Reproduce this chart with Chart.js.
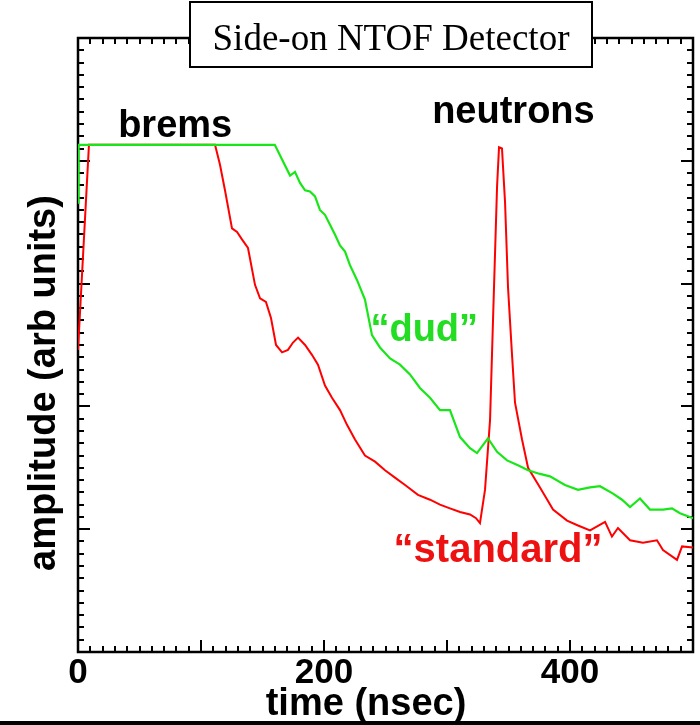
<!DOCTYPE html>
<html>
<head>
<meta charset="utf-8">
<script src="https://cdn.jsdelivr.net/npm/chart.js@4"></script>
<style>
  body { margin: 0; background: #fff; }
  canvas { display: block; }
</style>
</head>
<body>
<canvas id="ntof" width="700" height="725"></canvas>
<script>
// time axis (nsec) and amplitude (arb units)
var dudTime = [0, 0.5, 160, 165.9, 172.4, 176.4, 180.5, 184.6, 188.6, 192.7, 196.7, 200.8, 204.9, 208.9, 213.0, 217.1, 221.1, 226.8, 233.3, 239.0, 245.5, 253.7, 261.8, 269.9, 278.0, 286.2, 294.3, 302.4, 310.6, 318.7, 324.4, 333.3, 340.7, 348.8, 357.7, 365.9, 375.6, 383.7, 395.9, 406.5, 416.3, 424.4, 435.0, 442.3, 448.8, 456.9, 465.0, 475.6, 482.9, 489.4, 500];
var dudAmp = [3.66, 4.13, 4.13, 4.01, 3.88, 3.91, 3.82, 3.76, 3.75, 3.71, 3.60, 3.56, 3.48, 3.40, 3.31, 3.26, 3.15, 3.03, 2.87, 2.58, 2.48, 2.39, 2.34, 2.26, 2.15, 2.07, 1.97, 1.97, 1.75, 1.66, 1.62, 1.74, 1.63, 1.56, 1.52, 1.48, 1.45, 1.43, 1.36, 1.32, 1.34, 1.35, 1.29, 1.24, 1.18, 1.25, 1.16, 1.16, 1.17, 1.13, 1.09];

var stdTime = [0, 8.9, 111.4, 115.4, 119.5, 125.2, 129.3, 133.3, 138.2, 143.9, 148.0, 152.8, 156.9, 161.0, 165.9, 170.7, 174.8, 178.9, 184.6, 190.2, 195.1, 200.8, 206.5, 213.0, 218.7, 225.2, 233.3, 241.5, 249.6, 257.7, 265.9, 276.4, 286.2, 294.3, 302.4, 310.6, 318.7, 323.6, 326.8, 330.9, 335.0, 337.4, 340.7, 342.3, 344.7, 347.2, 349.6, 352.8, 355.3, 361.0, 365.9, 375.6, 386.2, 397.6, 406.5, 416.3, 428.5, 434.1, 439.0, 448.8, 459.3, 470.7, 475.6, 487.0, 491.1, 500];
var stdAmp = [2.46, 4.13, 4.13, 3.97, 3.76, 3.45, 3.42, 3.36, 3.29, 2.99, 2.88, 2.85, 2.72, 2.50, 2.44, 2.46, 2.52, 2.56, 2.50, 2.42, 2.34, 2.17, 2.07, 1.97, 1.85, 1.73, 1.60, 1.55, 1.48, 1.42, 1.36, 1.28, 1.24, 1.20, 1.17, 1.14, 1.12, 1.09, 1.05, 1.32, 1.89, 2.70, 3.79, 4.11, 4.10, 3.66, 2.97, 2.43, 2.03, 1.73, 1.50, 1.34, 1.16, 1.07, 1.03, 0.99, 1.06, 0.94, 1.01, 0.91, 0.89, 0.91, 0.83, 0.75, 0.86, 0.85];

var xLabels = [0, 200, 400];

function toPoints(xs, ys) {
    return xs.map(function(x, i) { return {x: x, y: ys[i]}; });
}

// frame, inward ticks on all four sides, and the text around the plot
var decor = {
    id: 'decor',
    beforeDatasetsDraw: function(chart) {
        var ctx = chart.ctx, a = chart.chartArea;
        var xs = chart.scales.x, ys = chart.scales.y;
        ctx.save();
        ctx.strokeStyle = '#000';
        ctx.lineWidth = 2;
        xs.ticks.forEach(function(t) {
            var px = Math.round(xs.getPixelForValue(t.value));
            var len = (t.value % 100 === 0) ? 12 : 6;
            ctx.beginPath();
            ctx.moveTo(px, a.bottom); ctx.lineTo(px, a.bottom - len);
            ctx.moveTo(px, a.top); ctx.lineTo(px, a.top + len);
            ctx.stroke();
        });
        ys.ticks.forEach(function(t) {
            var py = Math.round(ys.getPixelForValue(t.value));
            var len = (Math.abs(t.value - Math.round(t.value)) < 1e-6) ? 12 : 6;
            ctx.beginPath();
            ctx.moveTo(a.left, py); ctx.lineTo(a.left + len, py);
            ctx.moveTo(a.right, py); ctx.lineTo(a.right - len, py);
            ctx.stroke();
        });
        ctx.lineWidth = 2.5;
        ctx.strokeRect(a.left, a.top, a.right - a.left, a.bottom - a.top);
        ctx.restore();
    },
    afterDraw: function(chart) {
        var ctx = chart.ctx;
        var xs = chart.scales.x, ys = chart.scales.y;
        ctx.save();
        ctx.textAlign = 'center';
        ctx.textBaseline = 'alphabetic';

        // title box
        ctx.fillStyle = '#fff';
        ctx.fillRect(190, 2, 402, 65);
        ctx.strokeStyle = '#000';
        ctx.lineWidth = 2;
        ctx.strokeRect(190, 2, 402, 65);
        ctx.fillStyle = '#000';
        ctx.font = '37px "Liberation Serif"';
        ctx.fillText('Side-on NTOF Detector', 391, 50);

        // annotations
        ctx.font = 'bold 38px "Liberation Sans"';
        ctx.fillStyle = '#000';
        ctx.fillText('brems', xs.getPixelForValue(79), ys.getPixelForValue(4.19));
        ctx.fillText('neutrons', xs.getPixelForValue(354), ys.getPixelForValue(4.31));
        ctx.fillStyle = '#22dd22';
        ctx.fillText('\u201cdud\u201d', xs.getPixelForValue(281.5), ys.getPixelForValue(2.53));
        ctx.fillStyle = '#ee1111';
        ctx.font = 'bold 40px "Liberation Sans"';
        ctx.fillText('\u201cstandard\u201d', xs.getPixelForValue(341.5), ys.getPixelForValue(0.73));

        // axis titles
        ctx.fillStyle = '#000';
        ctx.font = 'bold 38px "Liberation Sans"';
        ctx.fillText('time (nsec)', 366, 715);
        ctx.translate(55, 383);
        ctx.rotate(-Math.PI / 2);
        ctx.fillText('amplitude (arb units)', 0, 0);
        ctx.restore();

        // rule along the bottom edge
        ctx.save();
        ctx.fillStyle = '#000';
        ctx.fillRect(0, 721, 700, 4);
        ctx.restore();
    }
};

new Chart(document.getElementById('ntof'), {
    type: 'line',
    data: {
        datasets: [{
            label: '"dud"',
            data: toPoints(dudTime, dudAmp),
            borderColor: '#19e619',
            borderWidth: 2.2,
            pointRadius: 0,
            tension: 0
        }, {
            label: '"standard"',
            data: toPoints(stdTime, stdAmp),
            borderColor: '#ff0000',
            borderWidth: 2,
            pointRadius: 0,
            tension: 0
        }]
    },
    options: {
        responsive: false,
        animation: false,
        devicePixelRatio: 1,
        layout: { padding: { top: 38, right: 7, left: 0, bottom: 0 } },
        plugins: { legend: { display: false }, tooltip: { enabled: false } },
        scales: {
            x: {
                type: 'linear',
                min: 0, max: 500,
                grid: { display: false, drawTicks: false },
                border: { display: false },
                ticks: {
                    stepSize: 10,
                    autoSkip: false,
                    maxRotation: 0, minRotation: 0,
                    padding: 0,
                    color: '#000',
                    font: { family: '"Liberation Sans"', size: 35, weight: 'bold' },
                    callback: function(v) { return xLabels.indexOf(v) >= 0 ? String(v) : ''; }
                },
                afterFit: function(s) { s.height = 73; }
            },
            y: {
                type: 'linear',
                min: 0, max: 5,
                grid: { display: false, drawTicks: false },
                border: { display: false },
                ticks: { stepSize: 0.1, display: false, autoSkip: false },
                afterFit: function(s) { s.width = 78; }
            }
        }
    },
    plugins: [decor]
});
</script>
</body>
</html>
